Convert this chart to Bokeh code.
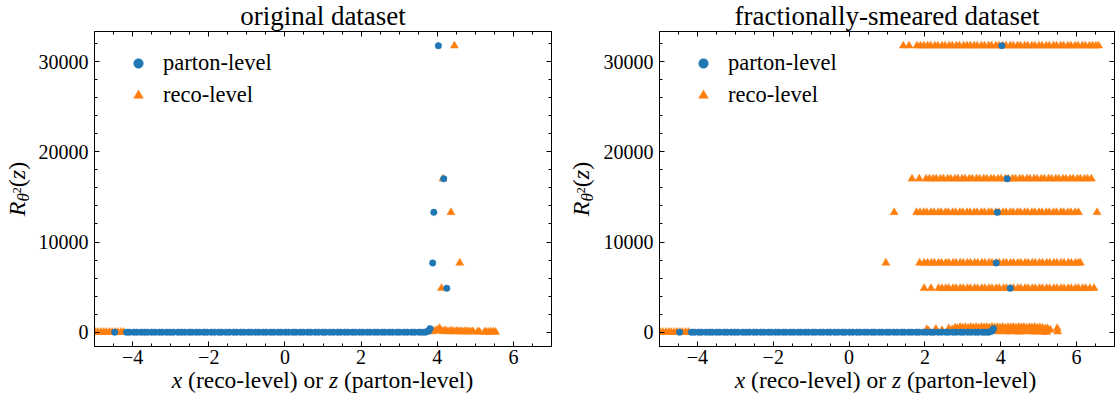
from bokeh.plotting import figure
from bokeh.models import (LinearAxis, SingleIntervalTicker, Range1d, Legend, LegendItem, Div)
from bokeh.layouts import row, column
from bokeh.embed import file_html
from bokeh.resources import INLINE

# ---------------- data ----------------
level_y = [31770, 17010, 13290, 7680, 4870]

# parton-level (identical in both panels)
parton_peak_x = [4.03, 4.17, 3.91, 3.88, 4.25]
parton_flat_x = [-4.47, -4.16, -4.08, -3.97, -3.89, -3.78, -3.69, -3.61, -3.50, -3.41, -3.30,
                 -3.22, -3.11, -3.02, -2.93, -2.81, -2.72, -2.63, -2.52, -2.44, -2.33, -2.24,
                 -2.13, -2.05, -1.94, -1.85, -1.74, -1.66, -1.55, -1.46, -1.35, -1.27, -1.16,
                 -1.07, -0.96, -0.88, -0.77, -0.68, -0.57, -0.49, -0.38, -0.29, -0.18, -0.10,
                 0.01, 0.10, 0.21, 0.29, 0.40, 0.49, 0.60, 0.68, 0.79, 0.88, 0.99, 1.07, 1.18,
                 1.27, 1.38, 1.46, 1.57, 1.66, 1.77, 1.85, 1.96, 2.05, 2.16, 2.24, 2.35, 2.44,
                 2.55, 2.63, 2.74, 2.83, 2.94, 3.02, 3.13, 3.22, 3.33, 3.41, 3.52, 3.60, 3.68]
parton_tail_x = [3.74, 3.78, 3.81]
parton_tail_y = [60, 170, 390]

# reco-level, original dataset
reco_left_x = [-4.98, -4.91, -4.83, -4.76, -4.69, -4.61, -4.54, -4.46, -4.39, -4.31, -4.24]
reco_orig_peak_x = [4.45, 4.15, 4.36, 4.59, 4.11]
reco_orig_tail_x = [3.84, 3.89, 3.95, 4.01, 4.06, 4.10, 4.15, 4.20, 4.25, 4.31, 4.36, 4.41,
                    4.46, 4.52, 4.57, 4.62, 4.67, 4.73, 4.78, 4.83, 4.88, 4.94, 5.06, 5.11,
                    5.24, 5.29, 5.35, 5.41, 5.47, 5.53]
reco_orig_tail_y = [60, 110, 150, 260, 430, 170, 90, 180, 110, 60, 130, 90, 70, 110, 60, 80,
                    50, 90, 60, 70, 40, 80, 60, 30, 20, 40, 10, 50, 30, 20]

# reco-level, fractionally-smeared dataset (one band per level)
smear_band_1 = [1.43, 1.58, 1.79, 1.88, 1.97, 2.07, 2.15, 2.26, 2.34, 2.45, 2.53, 2.64, 2.72,
                2.83, 2.91, 3.02, 3.11, 3.20, 3.30, 3.38, 3.49, 3.57, 3.68, 3.76, 3.87, 3.95,
                4.06, 4.14, 4.25, 4.33, 4.44, 4.52, 4.63, 4.71, 4.82, 4.90, 5.01, 5.09, 5.20,
                5.28, 5.39, 5.47, 5.58, 5.66, 5.77, 5.85, 5.96, 6.04, 6.15, 6.23, 6.34, 6.42,
                6.51, 6.58]
smear_band_2 = [1.66, 1.85, 2.03, 2.12, 2.22, 2.30, 2.41, 2.49, 2.60, 2.68, 2.79, 2.87, 2.98,
                3.06, 3.17, 3.25, 3.36, 3.44, 3.55, 3.63, 3.74, 3.82, 3.93, 4.01, 4.12, 4.20,
                4.31, 4.39, 4.50, 4.58, 4.69, 4.77, 4.88, 4.96, 5.07, 5.15, 5.26, 5.34, 5.45,
                5.53, 5.64, 5.72, 5.83, 5.91, 6.02, 6.10, 6.21, 6.29, 6.39]
smear_band_3 = [1.19, 1.78, 1.87, 1.97, 2.05, 2.16, 2.24, 2.35, 2.43, 2.54, 2.62, 2.73, 2.81,
                2.92, 3.00, 3.11, 3.19, 3.30, 3.38, 3.49, 3.57, 3.68, 3.76, 3.87, 3.95, 4.06,
                4.14, 4.25, 4.33, 4.44, 4.52, 4.63, 4.71, 4.82, 4.90, 5.01, 5.09, 5.20, 5.28,
                5.39, 5.47, 5.58, 5.66, 5.77, 5.85, 5.96, 6.05, 6.54]
smear_band_4 = [0.97, 1.86, 1.98, 2.07, 2.17, 2.25, 2.36, 2.44, 2.55, 2.63, 2.74, 2.82, 2.93,
                3.01, 3.12, 3.20, 3.31, 3.39, 3.50, 3.58, 3.69, 3.77, 3.88, 3.96, 4.07, 4.15,
                4.26, 4.34, 4.45, 4.53, 4.64, 4.72, 4.83, 4.91, 5.02, 5.10, 5.21, 5.29, 5.40,
                5.48, 5.59, 5.67, 5.78, 5.86, 5.97, 6.05, 6.10]
smear_band_5 = [1.98, 2.16, 2.36, 2.45, 2.55, 2.63, 2.74, 2.82, 2.93, 3.01, 3.12, 3.20, 3.31,
                3.39, 3.50, 3.58, 3.69, 3.77, 3.88, 3.96, 4.07, 4.15, 4.26, 4.34, 4.45, 4.53,
                4.64, 4.72, 4.83, 4.91, 5.02, 5.10, 5.21, 5.29, 5.40, 5.48, 5.59, 5.67, 5.78,
                5.86, 5.97, 6.05, 6.16, 6.24, 6.35, 6.46]
smear_low_x = [2.05, 2.10, 2.29, 2.45, 2.63, 2.72, 2.80, 2.86, 2.93, 3.00, 3.07, 3.14, 3.21,
               3.28, 3.35, 3.42, 3.49, 3.56, 3.63, 3.70, 3.77, 3.84, 3.91, 3.98, 4.05, 4.12,
               4.19, 4.26, 4.33, 4.40, 4.47, 4.54, 4.61, 4.68, 4.75, 4.82, 4.89, 4.96, 5.03,
               5.10, 5.17, 5.23, 5.31, 5.49, 5.50]
smear_low_y = [300, 150, 350, 200, 400, 300, 500, 420, 560, 480, 530, 450, 560, 500, 540, 470,
               560, 520, 550, 480, 560, 520, 540, 500, 560, 470, 540, 520, 560, 480, 550, 530,
               560, 470, 540, 500, 560, 480, 520, 450, 380, 420, 250, 420, 60]
smear_low2_x = [3.86, 3.95, 4.03, 4.12, 4.21, 4.30, 4.38, 4.47, 4.56, 4.64, 4.73, 4.82, 4.90,
                4.99, 5.08, 5.16, 5.22]
smear_low2_y = [120, 60, 150, 80, 40, 110, 70, 30, 90, 50, 120, 60, 20, 80, 40, 10, 30]

x_tick_labels = {-4: "\u22124", -2: "\u22122"}
titles = ["original dataset", "fractionally-smeared dataset"]
legend_labels = ["parton-level", "reco-level"]
x_label_html = "<i>x</i> (reco-level) or <i>z</i> (parton-level)"
y_label_html = ("<i>R</i><sub style=\"font-size:17px;vertical-align:-4px;line-height:0\">"
                "<i>\u03b8</i><sup style=\"font-size:12px;vertical-align:8px;line-height:0\">2</sup>"
                "</sub>(<i>z</i>)")

# ---------------- style ----------------
FONT = "Liberation Serif"
BLUE = "#1f77b4"
ORANGE = "#ff7f0e"
X_RANGE = (-5, 7)
Y_RANGE = (-1590, 33350)
FRAME_H = 315
TOP = 31          # frame top (page px)
FIG_BOTTOM = 26   # border under frame inside figure
YLAB_W = 35       # width of the y-label strip
FIG_H = TOP + FRAME_H + FIG_BOTTOM
XLAB_H = 402 - FIG_H


def style_axis(ax, ticker, labels=True, overrides=None):
    ax.ticker = ticker
    ax.axis_line_color = "black"
    ax.major_tick_line_color = "black"
    ax.minor_tick_line_color = "black"
    ax.major_tick_in = 5
    ax.major_tick_out = 0
    ax.minor_tick_in = 3
    ax.minor_tick_out = 0
    if labels:
        ax.major_label_text_font = FONT
        ax.major_label_text_font_size = "20px"
        ax.major_label_text_color = "black"
        if overrides:
            ax.major_label_overrides = overrides
    else:
        ax.major_label_text_font_size = "1px"
        ax.major_label_text_alpha = 0
        ax.major_label_standoff = 0


def make_figure(title, frame_w, border_left, border_right, reco_list, parton_list):
    p = figure(frame_width=frame_w, frame_height=FRAME_H,
               x_range=Range1d(*X_RANGE), y_range=Range1d(*Y_RANGE),
               output_backend="svg", toolbar_location=None, title=title,
               min_border_left=border_left, min_border_right=border_right,
               min_border_top=TOP, min_border_bottom=FIG_BOTTOM,
               background_fill_color="white", border_fill_color="white")
    p.title.text_font = FONT
    p.title.text_font_size = "27px"
    p.title.text_font_style = "normal"
    p.title.text_color = "black"
    p.title.align = "center"
    p.title.vertical_align = "top"
    p.title.standoff = -3
    p.xgrid.visible = False
    p.ygrid.visible = False
    p.outline_line_color = "black"
    p.outline_line_width = 1

    xt = SingleIntervalTicker(interval=2, num_minor_ticks=4)
    yt = SingleIntervalTicker(interval=10000, num_minor_ticks=5)
    style_axis(p.xaxis[0], xt, True, x_tick_labels)
    style_axis(p.yaxis[0], yt, True)
    p.xaxis[0].major_label_standoff = 3
    p.yaxis[0].major_label_standoff = 6
    top = LinearAxis()
    style_axis(top, xt, False)
    right = LinearAxis()
    style_axis(right, yt, False)
    p.add_layout(top, "above")
    p.add_layout(right, "right")

    r_reco = None
    for xs, ys in reco_list:
        r = p.scatter(xs, ys, marker="triangle", size=8, fill_color=ORANGE,
                      line_color=ORANGE, line_width=0.5)
        r_reco = r_reco or r
    r_parton = None
    for xs, ys in parton_list:
        r = p.scatter(xs, ys, marker="circle", size=6.5, fill_color=BLUE,
                      line_color=BLUE, line_width=0.5)
        r_parton = r_parton or r

    legend = Legend(items=[LegendItem(label=legend_labels[0], renderers=[r_parton]),
                           LegendItem(label=legend_labels[1], renderers=[r_reco])],
                    location="top_left", margin=0, padding=19,
                    glyph_width=50, glyph_height=24, label_height=24,
                    label_standoff=0, spacing=6,
                    border_line_alpha=0, background_fill_alpha=0,
                    label_text_font=FONT, label_text_font_size="22.5px",
                    label_text_color="black")
    p.add_layout(legend)
    return p


def y_label_div(baseline_x):
    # rotated label; its 200px box is centred on the frame's vertical centre
    centre = TOP + FRAME_H / 2
    html = (f"<div style=\"position:relative;width:{YLAB_W}px;height:{FIG_H}px;\">"
            f"<div style=\"position:absolute;left:{baseline_x - 20.1:.1f}px;top:{centre + 100:.1f}px;"
            f"width:200px;height:24px;line-height:24px;transform:rotate(-90deg);"
            f"transform-origin:0 0;text-align:center;white-space:nowrap;"
            f"font-family:'{FONT}';font-size:24px;color:black;\">{y_label_html}</div></div>")
    return Div(text=html, width=YLAB_W, height=FIG_H, margin=0)


def x_label_div(total_w, frame_left, frame_w):
    html = (f"<div style=\"position:relative;width:{total_w}px;height:{XLAB_H}px;\">"
            f"<div style=\"position:absolute;left:{frame_left}px;top:-3px;width:{frame_w}px;"
            f"text-align:center;white-space:nowrap;font-family:'{FONT}';font-size:23.5px;"
            f"line-height:23.5px;color:black;\">{x_label_html}</div></div>")
    return Div(text=html, width=total_w, height=XLAB_H, margin=0)


# ---------------- build sources ----------------
parton_sets = [
    (parton_flat_x, [0] * len(parton_flat_x)),
    (parton_tail_x, parton_tail_y),
    (parton_peak_x, level_y),
]
reco_orig_sets = [
    (reco_left_x, [0] * len(reco_left_x)),
    (reco_orig_tail_x, reco_orig_tail_y),
    (reco_orig_peak_x, level_y),
]
reco_smear_sets = [(reco_left_x, [0] * len(reco_left_x)),
                   (smear_low_x, smear_low_y),
                   (smear_low2_x, smear_low2_y)]
for band, lvl in zip([smear_band_1, smear_band_2, smear_band_3, smear_band_4, smear_band_5],
                     level_y):
    reco_smear_sets.append((band, [lvl] * len(band)))

# left panel: page x 0..565, frame 94..551
p1 = make_figure(titles[0], 457, 94 - YLAB_W, 14, reco_orig_sets, parton_sets)
# right panel: page x 565..1117, frame 658..1113
p2 = make_figure(titles[1], 455, 658 - 565 - YLAB_W, 4, reco_smear_sets, parton_sets)

left = column(row(y_label_div(25), p1, spacing=0), x_label_div(565, 94, 457), spacing=0)
right = column(row(y_label_div(24), p2, spacing=0), x_label_div(552, 93, 455), spacing=0)

layout = row(left, right, spacing=0)
open("out.html", "w").write(file_html(layout, INLINE))
